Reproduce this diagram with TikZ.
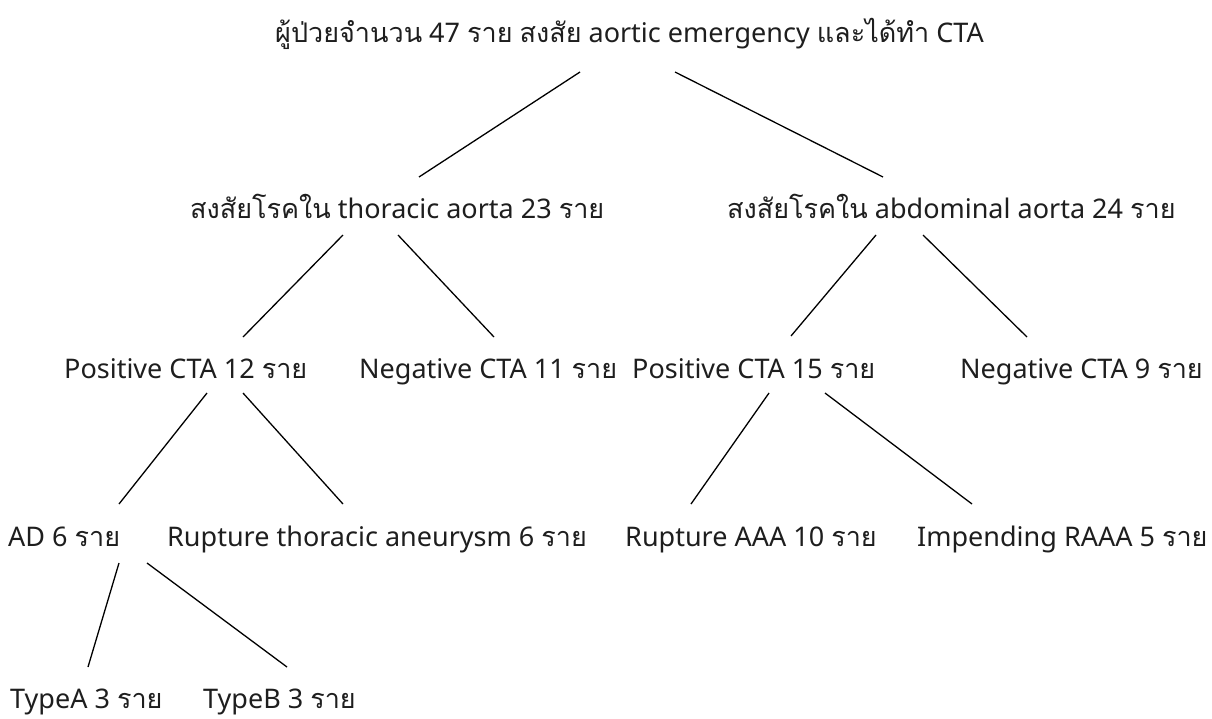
\documentclass[tikz,border=0pt]{standalone}
\usepackage{fontspec}
\setmainfont{Noto Sans}
\newfontfamily\thaifont[Script=Thai]{Loma}
\newcommand{\T}[1]{{\thaifont #1}}
\usetikzlibrary{calc}
\definecolor{txt}{RGB}{30,30,30}
\tikzset{
  lbl/.style={inner sep=0pt, text=txt, font=\fontsize{27}{32}\selectfont, anchor=base west},
  conn/.style={line width=1.3pt, black}
}
\begin{document}
\begin{tikzpicture}[x=1pt,y=-1pt]
\useasboundingbox[fill=white] (0,0) rectangle (1212,718);
\node[lbl] (top)  at (275,42)  {\T{ผู้ป่วยจำนวน} 47 \T{ราย} \T{สงสัย} aortic emergency \T{และได้ทำ} CTA};
\node[lbl] (thor) at (190,218) {\T{สงสัยโรคใน} thoracic aorta 23 \T{ราย}};
\node[lbl] (abd)  at (727,218) {\T{สงสัยโรคใน} abdominal aorta 24 \T{ราย}};
\node[lbl] (p12)  at (64,378)  {Positive CTA 12 \T{ราย}};
\node[lbl] (n11)  at (359,378) {Negative CTA 11 \T{ราย}};
\node[lbl] (p15)  at (632,378) {Positive CTA 15 \T{ราย}};
\node[lbl] (n9)   at (960,378) {Negative CTA 9 \T{ราย}};
\node[lbl] (ad)   at (8,546)   {AD 6 \T{ราย}};
\node[lbl] (rta)  at (167,546) {Rupture thoracic aneurysm 6 \T{ราย}};
\node[lbl] (raaa) at (625,546) {Rupture AAA 10 \T{ราย}};
\node[lbl] (imp)  at (917,546) {Impending RAAA 5 \T{ราย}};
\node[lbl] (ta)   at (10,708)  {TypeA 3 \T{ราย}};
\node[lbl] (tb)   at (203,708) {TypeB 3 \T{ราย}};
\draw[conn] ($(top.base west)+(305,30)$) -- ($(thor.base west)+(229,-41)$);
\draw[conn] ($(top.base west)+(400,30)$) -- ($(abd.base west)+(156,-41)$);
\draw[conn] ($(thor.base west)+(153,17)$) -- ($(p12.base west)+(179,-41)$);
\draw[conn] ($(thor.base west)+(208,17)$) -- ($(n11.base west)+(135,-41)$);
\draw[conn] ($(abd.base west)+(149,17)$) -- ($(p15.base west)+(159,-42)$);
\draw[conn] ($(abd.base west)+(196,17)$) -- ($(n9.base west)+(67,-41)$);
\draw[conn] ($(p12.base west)+(143,15)$) -- ($(ad.base west)+(111,-42)$);
\draw[conn] ($(p12.base west)+(179,15)$) -- ($(rta.base west)+(176,-42)$);
\draw[conn] ($(p15.base west)+(137,15)$) -- ($(raaa.base west)+(66,-42)$);
\draw[conn] ($(p15.base west)+(193,15)$) -- ($(imp.base west)+(55,-42)$);
\draw[conn] ($(ad.base west)+(111,17)$) -- ($(ta.base west)+(78,-41)$);
\draw[conn] ($(ad.base west)+(139,17)$) -- ($(tb.base west)+(84,-41)$);
\end{tikzpicture}
\end{document}
